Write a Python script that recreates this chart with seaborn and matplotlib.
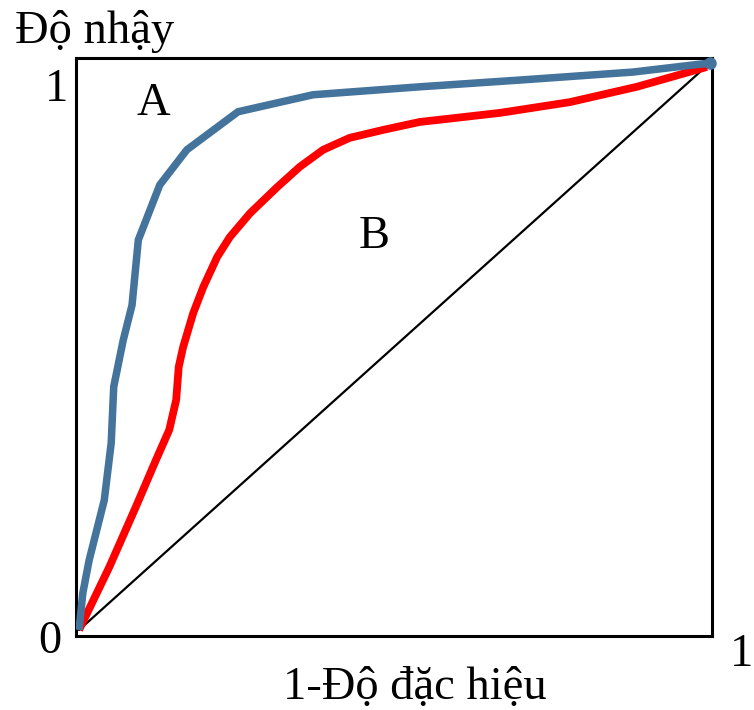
import matplotlib
matplotlib.use("Agg")
import matplotlib.pyplot as plt
import seaborn as sns
import pandas as pd

# ROC curve A (blue)
fpr_a = [0.0, 0.006, 0.016, 0.040, 0.051, 0.055, 0.070, 0.084, 0.094, 0.128,
         0.171, 0.252, 0.371, 0.540, 0.700, 0.878, 1.0]
tpr_a = [0.0, 0.065, 0.123, 0.229, 0.330, 0.429, 0.511, 0.573, 0.688, 0.785,
         0.847, 0.914, 0.944, 0.958, 0.970, 0.984, 1.0]

# ROC curve B (red)
fpr_b = [0.0, 0.048, 0.090, 0.122, 0.143, 0.154, 0.158, 0.165, 0.181, 0.197,
         0.219, 0.239, 0.271, 0.314, 0.350, 0.387, 0.429, 0.482, 0.540, 0.588,
         0.667, 0.778, 0.884, 0.995]
tpr_b = [0.0, 0.111, 0.217, 0.300, 0.353, 0.406, 0.464, 0.499, 0.559, 0.605,
         0.658, 0.693, 0.735, 0.781, 0.817, 0.847, 0.868, 0.882, 0.896, 0.902,
         0.912, 0.931, 0.958, 0.993]

# chance line
diag_x = [0.0, 0.99]
diag_y = [0.0, 0.99]

x_label = "1-Độ đặc hiệu"
y_label = "Độ nhậy"

sns.set_theme(style="white")
plt.rcParams["font.family"] = ["Liberation Serif", "DejaVu Serif"]
plt.rcParams["text.color"] = "black"

fig = plt.figure(figsize=(7.54, 7.10), dpi=100)
ax = fig.add_axes([76 / 754, 74 / 710, 636 / 754, 578 / 710])

df_a = pd.DataFrame({"x": fpr_a, "y": tpr_a})
df_b = pd.DataFrame({"x": fpr_b, "y": tpr_b})
df_d = pd.DataFrame({"x": diag_x, "y": diag_y})

sns.lineplot(data=df_d, x="x", y="y", ax=ax, sort=False, estimator=None,
             color="black", linewidth=1.6, zorder=2)
sns.lineplot(data=df_b, x="x", y="y", ax=ax, sort=False, estimator=None,
             color="#ff0000", linewidth=5.6, zorder=3,
             solid_joinstyle="round", solid_capstyle="butt")
sns.lineplot(data=df_a, x="x", y="y", ax=ax, sort=False, estimator=None,
             color="#44739c", linewidth=5.4, zorder=4,
             solid_joinstyle="miter", solid_capstyle="butt")
ax.plot([fpr_a[-1]], [tpr_a[-1]], "o", color="#44739c", markersize=8,
        zorder=5, clip_on=False)

ax.set_xlim(-0.0048, 1.0032)
ax.set_ylim(-0.0106, 1.0088)
ax.set_xticks([])
ax.set_yticks([])
ax.set_xlabel("")
ax.set_ylabel("")
for s in ax.spines.values():
    s.set_color("black")
    s.set_linewidth(2.2)
    s.set_visible(True)

fs = 33.5
ax.text(-0.035, 0.952, "1", fontsize=fs, ha="center", va="center", clip_on=False)
ax.text(-0.046, -0.021, "0", fontsize=fs, ha="center", va="center", clip_on=False)
ax.text(1.050, -0.044, "1", fontsize=fs, ha="center", va="center", clip_on=False)
ax.text(0.117, 0.928, "A", fontsize=fs, ha="center", va="center")
ax.text(0.467, 0.693, "B", fontsize=fs, ha="center", va="center")
ax.text(0.532, -0.101, x_label, fontsize=fs, ha="center", va="center", clip_on=False)
ax.text(-0.101, 1.035, y_label, fontsize=fs, ha="left", va="baseline", clip_on=False)

fig.savefig("out.png", dpi=100)
